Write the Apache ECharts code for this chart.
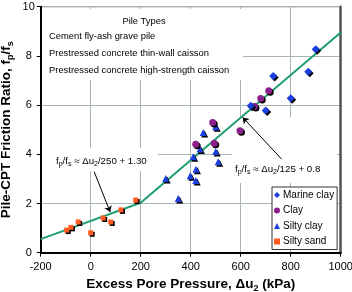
<!DOCTYPE html>
<html>
<head>
<meta charset="utf-8">
<script src="https://cdn.jsdelivr.net/npm/echarts@6/dist/echarts.min.js"></script>
<style>
  html, body { margin: 0; padding: 0; background: #fff; }
  #chart { width: 352px; height: 292px; }
</style>
</head>
<body>
<div id="chart"></div>
<script>
// axis ticks
const xTicks = [-200, 0, 200, 400, 600, 800, 1000];
const yTicks = [0, 2, 4, 6, 8, 10];

// readings: [excess pore pressure kPa, fp/fs]
const marineClay = [[640, 5.97], [700, 5.78], [730, 7.18], [800, 6.28], [870, 7.36], [900, 8.27]];
const clay = [[420, 4.41], [494, 4.45], [488, 5.29], [597, 4.96], [655, 5.94], [680, 6.27], [712, 6.58]];
const siltyClay = [[300, 3.02], [350, 2.2], [398, 3.13], [410, 3.9], [420, 2.93], [421, 3.39],
  [437, 4.22], [450, 4.89], [500, 4.11], [500, 5.12], [510, 3.7]];
const siltySand = [[-96, 0.92], [-79, 1.03], [-50, 1.25], [0, 0.81], [50, 1.41], [80, 1.25], [121, 1.74], [180, 2.14]];

// bilinear trend
const trendX = [-200, 200, 1000];
const trendY = [0.55, 2.03, 8.95];

// annotation arrows: [from, to] in data units
const arrows = [
  [[14, 3.29], [78, 1.65]],
  [[764, 3.8], [608, 5.5]],
];

const pileTypes = ['Cement fly-ash grave pile', 'Prestressed concrete thin-wall caisson', 'Prestressed concrete high-strength caisson'];

const FONT = '"Liberation Sans", Arial, sans-serif';
const chart = echarts.init(document.getElementById('chart'));

const shadow = { opacity: 1, shadowColor: '#000', shadowBlur: 0, shadowOffsetX: 1.5, shadowOffsetY: 1.5 };
const subRich = {
  n: { fontSize: 9.7, fontFamily: FONT, color: '#000' },
  s: { fontSize: 7, fontFamily: FONT, color: '#000', padding: [6, 0, 0, 0] },
};
const nameRich = {
  b: { fontSize: 13.5, fontWeight: 'bold', fontFamily: FONT, color: '#000' },
  bs: { fontSize: 9, fontWeight: 'bold', fontFamily: FONT, color: '#000', padding: [7, 0, 0, 0] },
};
const noteText = (text, x, y, align) => ({
  type: 'text', x, y, z: 3,
  style: { text, fontSize: 9.4, fontFamily: FONT, fill: '#000', align, verticalAlign: 'middle' },
});

chart.setOption({
  animation: false,
  textStyle: { fontFamily: FONT },
  grid: {
    left: 40.7, right: 11.3, top: 6.7, bottom: 39.3,
    containLabel: false, outerBoundsMode: 'none',
    show: true, borderColor: '#444', borderWidth: 1,
  },
  xAxis: {
    type: 'value', min: xTicks[0], max: xTicks[xTicks.length - 1], interval: 200,
    name: '{b|Excess Pore Pressure, \u0394u}{bs|2}{b| (kPa)}',
    nameLocation: 'middle', nameGap: 22,
    nameTextStyle: { rich: nameRich },
    axisLine: { show: true, onZero: false, lineStyle: { color: '#000', width: 2 } },
    axisTick: { show: true, length: 4, lineStyle: { color: '#000' } },
    axisLabel: { fontSize: 11, color: '#000', margin: 9, formatter: v => String(v) },
    splitLine: { show: true, lineStyle: { color: '#a9b5b5', width: 1 } },
  },
  yAxis: [{
    type: 'value', min: yTicks[0], max: yTicks[yTicks.length - 1], interval: 2,
    name: '{b|Pile-CPT Friction Ratio, f}{bs|p}{b|/f}{bs|s}',
    nameLocation: 'middle', nameGap: 26, nameMoveOverlap: false,
    nameTextStyle: { rich: nameRich },
    axisLine: { show: true, onZero: false, lineStyle: { color: '#000', width: 2 } },
    axisTick: { show: true, length: 4, lineStyle: { color: '#000' } },
    axisLabel: { fontSize: 11, color: '#000', margin: 12, align: 'center' },
    splitLine: { show: true, lineStyle: { color: '#a9b5b5', width: 1 } },
  }, {
    type: 'value', position: 'right', min: 0, max: 10,
    axisLine: { show: true, onZero: false, lineStyle: { color: '#555', width: 2.5 } },
    axisTick: { show: false }, axisLabel: { show: false }, splitLine: { show: false },
  }],
  legend: {
    orient: 'vertical', left: 272, top: 187,
    itemWidth: 6, itemHeight: 6, itemGap: 3.5,
    padding: [2, 3, 2, 2],
    backgroundColor: '#fff', borderColor: '#333', borderWidth: 1,
    textStyle: { fontSize: 10, color: '#000', fontFamily: FONT, lineHeight: 12, padding: [0, 0, 0, -2] },
    data: ['Marine clay', 'Clay', 'Silty clay', 'Silty sand'],
  },
  graphic: [
    // white text boxes sit over the gridlines but under the data
    { type: 'rect', shape: { x: 42, y: 9, width: 201, height: 71 }, style: { fill: '#fff' }, z: 1, silent: true },
    { type: 'rect', shape: { x: 42, y: 148, width: 116, height: 23 }, style: { fill: '#fff' }, z: 1, silent: true },
    { type: 'rect', shape: { x: 232, y: 117, width: 105, height: 66 }, style: { fill: '#fff' }, z: 1, silent: true },
    noteText('Pile Types', 144, 21, 'center'),
    ...pileTypes.map((t, i) => noteText(t, 49, 36 + i * 17, 'left')),
    { type: 'text', x: 56, y: 161, z: 3,
      style: { text: '{n|f}{s|p}{n|/f}{s|s}{n| \u2248 \u0394u}{s|2}{n|/250 + 1.30}', rich: subRich, align: 'left', verticalAlign: 'middle' } },
    { type: 'text', x: 235, y: 169, z: 3,
      style: { text: '{n|f}{s|p}{n|/f}{s|s}{n| \u2248 \u0394u}{s|2}{n|/125 + 0.8}', rich: subRich, align: 'left', verticalAlign: 'middle' } },
  ],
  series: [
    {
      name: 'Trend', type: 'line', data: trendX.map((x, i) => [x, trendY[i]]),
      symbol: 'none', lineStyle: { color: '#1f9e6f', width: 2 }, z: 2,
      markLine: {
        silent: true, symbol: ['none', 'arrow'], symbolSize: 6,
        label: { show: false },
        lineStyle: { color: '#000', width: 1, type: 'solid' },
        data: arrows.map(([a, b]) => [{ coord: a }, { coord: b }]),
      },
    },
    {
      name: 'Silty sand', type: 'scatter', data: siltySand, symbol: 'rect', symbolSize: 5,
      itemStyle: { color: '#ff5a1f', ...shadow }, z: 3,
    },
    {
      name: 'Silty clay', type: 'scatter', data: siltyClay, symbol: 'triangle', symbolSize: 7,
      itemStyle: { color: '#1c3fe0', ...shadow }, z: 3,
    },
    {
      name: 'Clay', type: 'scatter', data: clay, symbol: 'circle', symbolSize: 7,
      itemStyle: { color: '#8c1f8c', ...shadow }, z: 3,
    },
    {
      name: 'Marine clay', type: 'scatter', data: marineClay, symbol: 'diamond', symbolSize: 8,
      itemStyle: { color: '#1c3fe0', ...shadow }, z: 3,
    },
  ],
});
</script>
</body>
</html>
